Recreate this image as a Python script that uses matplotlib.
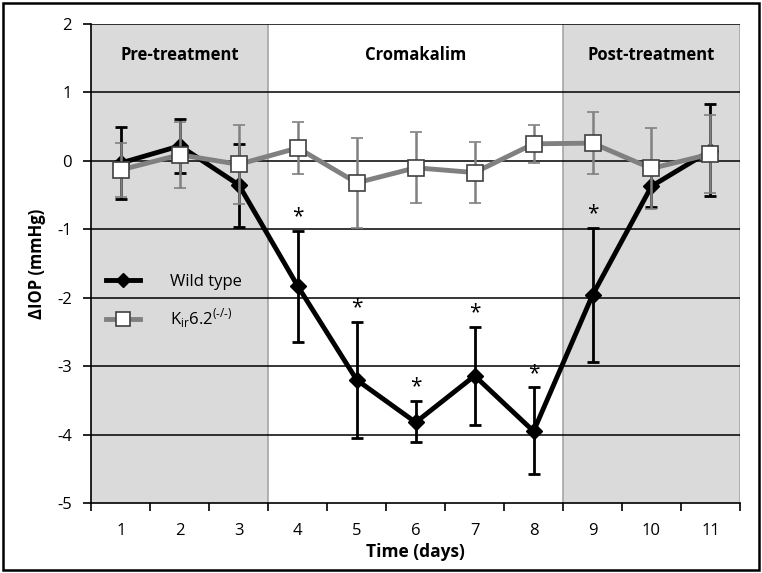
import numpy as np
import matplotlib
matplotlib.use('Agg')
import matplotlib.pyplot as plt
from matplotlib.patches import Rectangle
from matplotlib.lines import Line2D

days = [1, 2, 3, 4, 5, 6, 7, 8, 9, 10, 11]

# wild type mean, upper and lower error
wt_mean = [-0.03, 0.22, -0.35, -1.83, -3.20, -3.82, -3.14, -3.95, -1.96, -0.37, 0.15]
wt_err_up = [0.53, 0.39, 0.60, 0.81, 0.85, 0.31, 0.72, 0.64, 0.98, 0.30, 0.68]
wt_err_dn = [0.53, 0.39, 0.62, 0.81, 0.85, 0.29, 0.72, 0.63, 0.98, 0.30, 0.66]

# Kir6.2 knockout mean and error
ko_mean = [-0.13, 0.09, -0.05, 0.19, -0.32, -0.10, -0.17, 0.25, 0.26, -0.11, 0.10]
ko_err = [0.39, 0.48, 0.58, 0.38, 0.66, 0.52, 0.44, 0.28, 0.45, 0.59, 0.57]

signif_days = [4, 5, 6, 7, 8, 9]

phases = ['Pre-treatment', 'Cromakalim', 'Post-treatment']
phase_centers = [2, 6, 10]

plt.rcParams['font.family'] = ['Open Sans', 'DejaVu Sans']
plt.rcParams['axes.unicode_minus'] = False

fig = plt.figure(figsize=(7.62, 5.73), dpi=100)
ax = fig.add_axes([0.12, 0.122, 0.851, 0.836])

# shaded phases
ax.axvspan(0.5, 3.5, color='#dadada', zorder=0, lw=0)
ax.axvspan(8.5, 11.5, color='#dadada', zorder=0, lw=0)
for xv in [3.5, 8.5, 11.5]:
    ax.axvline(xv, color='#a6a6a6', lw=1.2, zorder=1)

# horizontal grid
for yv in range(-4, 3):
    ax.axhline(yv, color='black', lw=1.1, zorder=1)

# knockout
ax.errorbar(days, ko_mean, yerr=ko_err, color='#808080', lw=3.5,
            elinewidth=1.8, capsize=4, capthick=1.8, marker='s', ms=12,
            mfc='white', mec='#404040', mew=1.2, zorder=4)

# wild type
ax.errorbar(days, wt_mean, yerr=[wt_err_dn, wt_err_up], color='black', lw=3.5,
            elinewidth=2, capsize=4, capthick=2, marker='D', ms=8,
            mfc='black', mec='black', zorder=3)

for d in signif_days:
    i = days.index(d)
    ax.text(d, wt_mean[i] + wt_err_up[i] + 0.05, '*', ha='center', va='bottom',
            fontsize=15, zorder=5)

for name, cx in zip(phases, phase_centers):
    ax.text(cx, 1.55, name, ha='center', va='center', fontsize=12,
            fontweight='bold')

ax.set_xlim(0.5, 11.5)
ax.set_ylim(-5, 2)
ax.set_yticks(range(-5, 3))
ax.set_xticks(np.arange(0.5, 12, 1))
ax.set_xticklabels([])
ax.set_xticks(days, minor=True)
ax.set_xticklabels([str(d) for d in days], minor=True)
ax.tick_params(axis='x', which='minor', length=0, labelsize=12, pad=14)
ax.tick_params(axis='x', which='major', length=6, width=1.2, direction='out')
ax.tick_params(axis='y', length=6, width=1.2, labelsize=12, pad=8)

for s in ['top', 'right']:
    ax.spines[s].set_visible(False)
ax.spines['left'].set_linewidth(1.2)
ax.spines['bottom'].set_linewidth(1.2)

ax.set_ylabel('ΔIOP (mmHg)', fontsize=12, fontweight='bold', labelpad=8)
ax.set_xlabel('Time (days)', fontsize=12.5, fontweight='bold', labelpad=3)

h_wt = Line2D([], [], color='black', lw=3.5, marker='D', ms=7)
h_ko = Line2D([], [], color='#808080', lw=3.5, marker='s', ms=10,
              mfc='white', mec='#404040', mew=1.2)
leg = ax.legend([h_wt, h_ko],
                ['Wild type', 'K$_{\\mathregular{ir}}$6.2$^{\\mathregular{(\u2010/\u2010)}}$'],
                loc='upper left', bbox_to_anchor=(0.0, 0.51), frameon=False,
                fontsize=12, handlelength=2.0, handletextpad=1.8,
                labelspacing=1.0)

# outer border
fig.patches.append(Rectangle((0.004, 0.005), 0.992, 0.99, transform=fig.transFigure,
                             fill=False, ec='black', lw=1.8))

fig.savefig('out.png', dpi=100)
